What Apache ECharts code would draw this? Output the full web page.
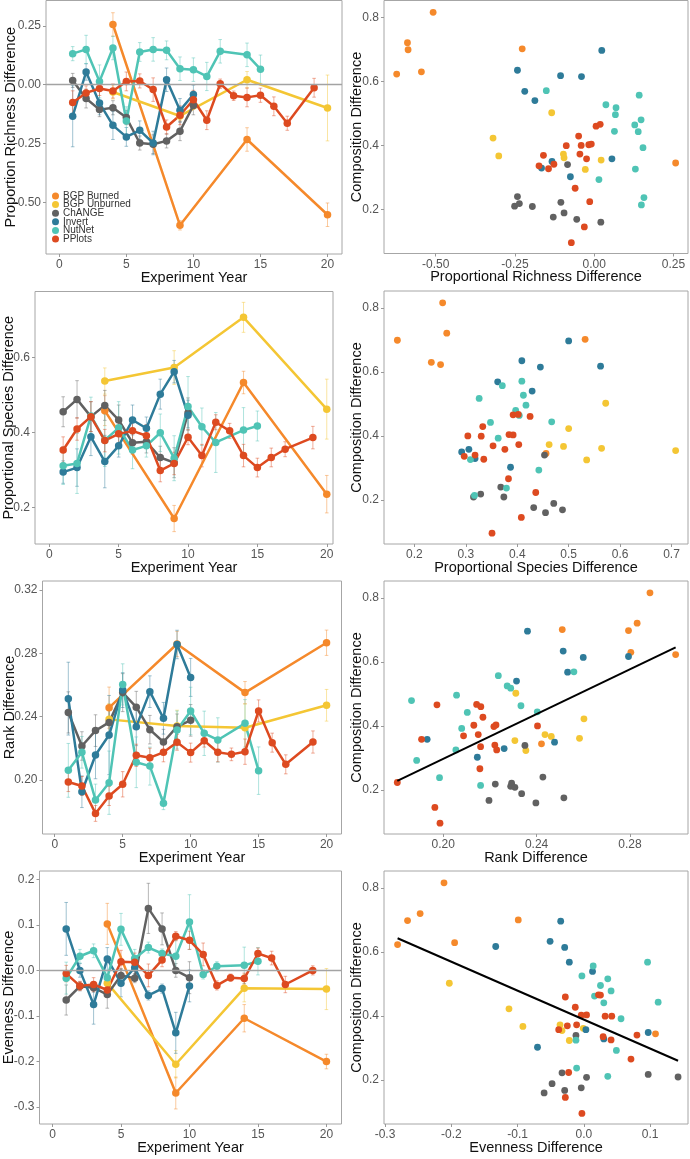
<!DOCTYPE html>
<html>
<head>
<meta charset="utf-8">
<title>community_change</title>
<script src="https://cdn.jsdelivr.net/npm/echarts@6/dist/echarts.min.js"></script>
<style>
html, body { margin: 0; padding: 0; background: #fff; }
#main { width: 690px; height: 1159px; }
</style>
</head>
<body>
<div id="main"></div>
<script>
var sites = ['BGP Burned', 'BGP Unburned', 'ChANGE', 'Invert', 'NutNet', 'PPlots'];
var colors = ['#f5892b', '#f4c634', '#616161', '#2e7b99', '#4fc4b5', '#dd4a20'];

// experiment years sampled by each site
var yearsBGP = [4, 9, 14, 20];
var yearsChANGE = [1, 2, 3, 4, 5, 6, 7, 8, 9, 10];
var yearsInvert = [1, 2, 3, 4, 5, 6, 7, 8, 9, 10];
var yearsNutNet = [1, 2, 3, 4, 5, 6, 7, 8, 9, 10, 11, 12, 14, 15];
var yearsPPlots = [1, 2, 3, 4, 5, 6, 7, 8, 9, 10, 11, 12, 13, 14, 15, 16, 17, 19];
var siteYears = [yearsBGP, yearsBGP, yearsChANGE, yearsInvert, yearsNutNet, yearsPPlots];

// means per site (same order as sites), and +/- error
var richMean = [
    [0.256, -0.598, -0.233, -0.553],
    [-0.031, -0.133, 0.021, -0.099],
    [0.018, -0.059, -0.106, -0.098, -0.140, -0.248, -0.253, -0.239, -0.198, -0.088],
    [-0.134, 0.054, -0.078, -0.173, -0.222, -0.194, -0.248, 0.021, -0.109, -0.042],
    [0.132, 0.150, 0.014, 0.156, -0.154, 0.139, 0.150, 0.146, 0.068, 0.064, 0.035, 0.142, 0.127, 0.066],
    [-0.076, -0.035, -0.016, -0.027, 0.014, 0.016, -0.021, -0.180, -0.130, -0.064, -0.151, 0.004, -0.047, -0.054, -0.045, -0.092, -0.164, -0.013]
];
var richErr = [
    [0.05, 0.02, 0.05, 0.05],
    [0.03, 0.02, 0.035, 0.14],
    [0.03, 0.04, 0.03, 0.03, 0.03, 0.03, 0.04, 0.03, 0.04, 0.04],
    [0.13, 0.035, 0.05, 0.06, 0.04, 0.04, 0.05, 0.05, 0.05, 0.04],
    [0.03, 0.06, 0.07, 0.05, 0.06, 0.04, 0.05, 0.04, 0.05, 0.05, 0.06, 0.05, 0.05, 0.06],
    [0.05, 0.03, 0.03, 0.03, 0.04, 0.03, 0.05, 0.03, 0.04, 0.04, 0.04, 0.02, 0.02, 0.04, 0.03, 0.04, 0.03, 0.04]
];
var speciesMean = [
    [0.458, 0.170, 0.533, 0.235],
    [0.537, 0.573, 0.707, 0.462],
    [0.455, 0.488, 0.442, 0.472, 0.433, 0.372, 0.375, 0.333, 0.319, 0.452],
    [0.294, 0.306, 0.388, 0.322, 0.364, 0.433, 0.411, 0.502, 0.562, 0.446],
    [0.311, 0.317, 0.444, 0.379, 0.412, 0.353, 0.364, 0.399, 0.331, 0.469, 0.415, 0.373, 0.406, 0.417],
    [0.353, 0.409, 0.442, 0.378, 0.396, 0.404, 0.391, 0.298, 0.317, 0.387, 0.338, 0.427, 0.404, 0.338, 0.306, 0.333, 0.355, 0.386]
];
var speciesErr = [
    [0.04, 0.035, 0.03, 0.05],
    [0.035, 0.045, 0.04, 0.08],
    [0.04, 0.05, 0.04, 0.04, 0.04, 0.03, 0.03, 0.03, 0.04, 0.04],
    [0.03, 0.05, 0.05, 0.07, 0.03, 0.04, 0.03, 0.04, 0.03, 0.04],
    [0.05, 0.08, 0.05, 0.07, 0.07, 0.05, 0.03, 0.05, 0.06, 0.08, 0.05, 0.08, 0.06, 0.04],
    [0.035, 0.03, 0.04, 0.03, 0.03, 0.03, 0.03, 0.03, 0.03, 0.02, 0.03, 0.02, 0.02, 0.03, 0.025, 0.025, 0.02, 0.03]
];
var rankMean = [
    [0.2457, 0.2859, 0.2552, 0.2867],
    [0.2383, 0.2341, 0.2330, 0.2472],
    [0.2427, 0.2215, 0.2312, 0.2364, 0.2552, 0.2460, 0.2318, 0.2240, 0.2337, 0.2377],
    [0.2514, 0.1926, 0.2158, 0.2284, 0.2568, 0.2337, 0.2558, 0.2390, 0.2856, 0.2648],
    [0.2061, 0.2175, 0.1874, 0.1983, 0.2604, 0.2112, 0.2088, 0.1853, 0.2316, 0.2436, 0.2295, 0.2253, 0.2358, 0.2059],
    [0.1987, 0.1962, 0.1789, 0.1899, 0.1973, 0.2156, 0.2141, 0.2175, 0.2238, 0.2173, 0.2248, 0.2175, 0.2162, 0.2179, 0.2436, 0.2236, 0.2099, 0.2240]
];
var rankErr = [
    [0.013, 0.008, 0.007, 0.008],
    [0.010, 0.010, 0.015, 0.010],
    [0.013, 0.009, 0.010, 0.010, 0.012, 0.010, 0.009, 0.008, 0.008, 0.010],
    [0.023, 0.010, 0.015, 0.025, 0.011, 0.012, 0.010, 0.010, 0.009, 0.012],
    [0.017, 0.010, 0.010, 0.020, 0.013, 0.016, 0.012, 0.004, 0.012, 0.015, 0.014, 0.014, 0.015, 0.015],
    [0.006, 0.006, 0.005, 0.006, 0.008, 0.007, 0.006, 0.006, 0.005, 0.006, 0.004, 0.006, 0.004, 0.008, 0.007, 0.006, 0.006, 0.007]
];
var evenMean = [
    [0.102, -0.269, -0.105, -0.200],
    [-0.028, -0.206, -0.039, -0.041],
    [-0.065, -0.035, -0.038, -0.053, -0.011, -0.017, 0.136, 0.091, 0.000, -0.016],
    [0.091, 0.000, -0.075, 0.025, -0.028, 0.006, -0.055, -0.040, -0.137, -0.034],
    [-0.017, 0.031, 0.043, -0.016, 0.090, 0.026, 0.050, 0.037, 0.031, 0.106, -0.009, 0.009, 0.011, 0.020],
    [-0.007, -0.034, -0.031, -0.043, 0.019, 0.018, -0.011, 0.023, 0.075, 0.066, 0.035, -0.033, -0.016, -0.018, 0.037, 0.027, -0.031, 0.000]
];
var evenErr = [
    [0.045, 0.035, 0.03, 0.016],
    [0.010, 0.030, 0.030, 0.045],
    [0.033, 0.010, 0.010, 0.030, 0.015, 0.010, 0.055, 0.035, 0.015, 0.035],
    [0.058, 0.015, 0.043, 0.025, 0.030, 0.015, 0.010, 0.010, 0.045, 0.035],
    [0.035, 0.015, 0.015, 0.015, 0.035, 0.020, 0.012, 0.010, 0.035, 0.060, 0.010, 0.010, 0.040, 0.030],
    [0.018, 0.010, 0.015, 0.015, 0.025, 0.020, 0.025, 0.015, 0.010, 0.020, 0.025, 0.010, 0.008, 0.012, 0.012, 0.015, 0.018, 0.010]
];

// scatter points [metric, composition difference] per site
var richVsComp = [
    [[-0.623, 0.623], [-0.589, 0.721], [-0.587, 0.699], [-0.545, 0.630], [-0.508, 0.816], [-0.227, 0.702], [0.257, 0.345]],
    [[-0.319, 0.423], [-0.301, 0.367], [-0.134, 0.502], [-0.097, 0.373], [-0.095, 0.361], [-0.028, 0.325], [0.022, 0.354]],
    [[-0.242, 0.240], [-0.251, 0.210], [-0.236, 0.218], [-0.195, 0.209], [-0.129, 0.176], [-0.105, 0.222], [-0.095, 0.189], [-0.084, 0.340], [-0.055, 0.169], [0.021, 0.160]],
    [[0.024, 0.697], [-0.242, 0.635], [-0.106, 0.618], [-0.040, 0.615], [-0.219, 0.569], [-0.187, 0.540], [-0.133, 0.350], [-0.166, 0.329], [-0.075, 0.302], [0.056, 0.358]],
    [[-0.151, 0.571], [0.037, 0.527], [0.069, 0.518], [0.067, 0.496], [0.142, 0.557], [0.128, 0.464], [0.148, 0.480], [0.139, 0.443], [0.064, 0.444], [0.154, 0.393], [0.015, 0.293], [0.130, 0.326], [0.157, 0.237], [0.149, 0.214]],
    [[0.006, 0.460], [0.019, 0.466], [-0.049, 0.429], [-0.088, 0.399], [-0.041, 0.400], [-0.017, 0.402], [-0.009, 0.404], [-0.160, 0.369], [-0.045, 0.373], [-0.024, 0.358], [-0.174, 0.336], [-0.144, 0.327], [-0.127, 0.341], [-0.060, 0.266], [-0.014, 0.224], [-0.031, 0.145], [-0.072, 0.096]]
];
var speciesVsComp = [
    [[0.167, 0.699], [0.255, 0.816], [0.263, 0.721], [0.233, 0.630], [0.251, 0.623], [0.532, 0.702], [0.456, 0.345]],
    [[0.572, 0.502], [0.500, 0.423], [0.462, 0.373], [0.490, 0.367], [0.564, 0.361], [0.535, 0.325], [0.708, 0.354]],
    [[0.453, 0.340], [0.368, 0.240], [0.315, 0.209], [0.329, 0.218], [0.374, 0.209], [0.432, 0.176], [0.471, 0.189], [0.455, 0.160], [0.488, 0.169]],
    [[0.500, 0.697], [0.409, 0.635], [0.445, 0.615], [0.562, 0.618], [0.362, 0.569], [0.429, 0.540], [0.292, 0.350], [0.306, 0.358], [0.318, 0.329], [0.387, 0.302]],
    [[0.409, 0.571], [0.371, 0.557], [0.326, 0.517], [0.412, 0.527], [0.417, 0.496], [0.397, 0.480], [0.404, 0.464], [0.348, 0.442], [0.467, 0.444], [0.363, 0.393], [0.309, 0.326], [0.442, 0.293], [0.379, 0.237], [0.317, 0.214]],
    [[0.392, 0.466], [0.402, 0.467], [0.425, 0.461], [0.333, 0.429], [0.304, 0.400], [0.330, 0.399], [0.384, 0.404], [0.392, 0.403], [0.353, 0.369], [0.403, 0.373], [0.376, 0.358], [0.297, 0.336], [0.318, 0.340], [0.335, 0.327], [0.383, 0.266], [0.436, 0.223], [0.408, 0.145], [0.351, 0.096]]
];
var rankVsComp = [
    [[0.2886, 0.816], [0.2831, 0.721], [0.2794, 0.698], [0.2804, 0.630], [0.2996, 0.623], [0.2510, 0.701], [0.2421, 0.344]],
    [[0.2311, 0.502], [0.2603, 0.422], [0.2436, 0.373], [0.2463, 0.367], [0.2584, 0.361], [0.2307, 0.354], [0.2354, 0.323]],
    [[0.2350, 0.339], [0.2427, 0.240], [0.2223, 0.218], [0.2293, 0.221], [0.2289, 0.211], [0.2307, 0.208], [0.2336, 0.188], [0.2196, 0.167], [0.2397, 0.159], [0.2517, 0.175]],
    [[0.2361, 0.696], [0.2514, 0.634], [0.2600, 0.614], [0.2794, 0.617], [0.2533, 0.568], [0.2314, 0.540], [0.1931, 0.358], [0.2146, 0.302], [0.2261, 0.329], [0.2477, 0.349]],
    [[0.2560, 0.569], [0.2236, 0.557], [0.2274, 0.525], [0.2289, 0.518], [0.2057, 0.496], [0.1864, 0.479], [0.2333, 0.463], [0.2103, 0.442], [0.2403, 0.444], [0.2079, 0.392], [0.2054, 0.325], [0.1886, 0.292], [0.1984, 0.238], [0.2160, 0.214]],
    [[0.1973, 0.466], [0.2143, 0.467], [0.2161, 0.460], [0.2170, 0.427], [0.2131, 0.402], [0.2217, 0.398], [0.2226, 0.403], [0.1907, 0.358], [0.2087, 0.369], [0.2150, 0.373], [0.2160, 0.335], [0.2221, 0.340], [0.2229, 0.325], [0.2404, 0.400], [0.2157, 0.266], [0.1803, 0.223], [0.1964, 0.145], [0.1986, 0.096]]
];
var evenVsComp = [
    [[-0.281, 0.623], [-0.266, 0.698], [-0.247, 0.720], [-0.211, 0.816], [-0.195, 0.629], [-0.099, 0.700], [0.108, 0.344]],
    [[-0.203, 0.502], [-0.113, 0.422], [-0.092, 0.367], [-0.036, 0.372], [-0.033, 0.354], [-0.001, 0.361], [-0.022, 0.323]],
    [[-0.012, 0.339], [-0.033, 0.222], [0.004, 0.208], [-0.048, 0.188], [-0.060, 0.159], [-0.029, 0.167], [-0.004, 0.175], [0.097, 0.217], [0.142, 0.209]],
    [[-0.035, 0.696], [-0.051, 0.633], [-0.029, 0.614], [-0.133, 0.617], [-0.022, 0.568], [0.013, 0.539], [0.003, 0.357], [-0.070, 0.302], [0.030, 0.328], [0.097, 0.348]],
    [[0.096, 0.568], [0.014, 0.556], [-0.003, 0.525], [0.036, 0.516], [0.025, 0.495], [0.041, 0.478], [0.016, 0.462], [0.030, 0.441], [0.112, 0.443], [0.056, 0.391], [-0.012, 0.324], [0.049, 0.292], [-0.011, 0.237], [0.036, 0.211]],
    [[0.022, 0.466], [0.025, 0.465], [-0.028, 0.459], [-0.013, 0.427], [-0.004, 0.402], [0.004, 0.403], [0.032, 0.399], [0.042, 0.399], [-0.038, 0.357], [-0.025, 0.369], [-0.011, 0.372], [0.029, 0.335], [0.041, 0.325], [0.080, 0.340], [0.071, 0.265], [-0.023, 0.223], [-0.028, 0.145], [-0.003, 0.095]]
];

var yearTicks = [0, 5, 10, 15, 20];
var richTicks = [-0.5, -0.25, 0, 0.25];
var speciesTicks = [0.2, 0.4, 0.6];
var rankTicks = [0.2, 0.24, 0.28, 0.32];
var evenTicks = [-0.3, -0.2, -0.1, 0, 0.1, 0.2];
var compTicks = [0.2, 0.4, 0.6, 0.8];
var richXTicks = [-0.5, -0.25, 0, 0.25];
var speciesXTicks = [0.2, 0.3, 0.4, 0.5, 0.6, 0.7];
var rankXTicks = [0.2, 0.24, 0.28];
var evenXTicks = [-0.3, -0.2, -0.1, 0, 0.1];

var FONT = '"Liberation Sans", Arial, sans-serif';

var grids = [
    {left: 46, top: 0.5, width: 296, height: 253.5},
    {left: 384, top: 0.5, width: 304, height: 253},
    {left: 35, top: 291.5, width: 298, height: 252.5},
    {left: 384, top: 291, width: 304, height: 253},
    {left: 42.5, top: 581, width: 299, height: 253},
    {left: 384, top: 581, width: 304, height: 253},
    {left: 39.5, top: 871, width: 302, height: 253},
    {left: 384, top: 871, width: 304, height: 253}
].map(function (g) {
    g.show = true;
    g.borderColor = '#a6a6a6';
    g.borderWidth = 1;
    g.containLabel = false;
    g.outerBoundsMode = 'none';
    return g;
});

function valueAxis(gi, min, max, ticks, digits, name, gap) {
    return {
        type: 'value', gridIndex: gi, min: min, max: max,
        name: name, nameLocation: 'middle', nameGap: gap, nameMoveOverlap: false,
        nameTextStyle: {color: '#111', fontSize: 14.5, fontFamily: FONT},
        axisLine: {show: false, onZero: false},
        axisTick: {show: true, length: 3, customValues: ticks, lineStyle: {color: '#999', width: 1}},
        axisLabel: {
            customValues: ticks, margin: 5, color: '#555', fontSize: 12, fontFamily: FONT,
            formatter: function (v) { return Number(v).toFixed(digits); }
        },
        splitLine: {show: false}
    };
}

var xAxes = [
    valueAxis(0, -0.99, 21.08, yearTicks, 0, 'Experiment Year', 16),
    valueAxis(1, -0.663, 0.296, richXTicks, 2, 'Proportional Richness Difference', 16),
    valueAxis(2, -1.03, 20.45, yearTicks, 0, 'Experiment Year', 16),
    valueAxis(3, 0.141, 0.732, speciesXTicks, 1, 'Proportional Species Difference', 16),
    valueAxis(4, -0.9, 21.1, yearTicks, 0, 'Experiment Year', 16),
    valueAxis(5, 0.1746, 0.3049, rankXTicks, 2, 'Rank Difference', 16),
    valueAxis(6, -0.95, 21.1, yearTicks, 0, 'Experiment Year', 16),
    valueAxis(7, -0.3015, 0.157, evenXTicks, 1, 'Evenness Difference', 16)
];
var yAxes = [
    valueAxis(0, -0.72, 0.358, richTicks, 2, 'Proportion Richness Difference', 28),
    valueAxis(1, 0.062, 0.853, compTicks, 1, 'Composition Difference', 19.5),
    valueAxis(2, 0.102, 0.776, speciesTicks, 1, 'Proportional Species Difference', 19),
    valueAxis(3, 0.062, 0.853, compTicks, 1, 'Composition Difference', 19.5),
    valueAxis(4, 0.1659, 0.3257, rankTicks, 2, 'Rank Difference', 25),
    valueAxis(5, 0.062, 0.853, compTicks, 1, 'Composition Difference', 19.5),
    valueAxis(6, -0.337, 0.218, evenTicks, 1, 'Evenness Difference', 23),
    valueAxis(7, 0.062, 0.853, compTicks, 1, 'Composition Difference', 19.5)
];

function renderErrorBar(params, api) {
    var x = api.value(0), y = api.value(1), e = api.value(2);
    var hi = api.coord([x, y + e]);
    var lo = api.coord([x, y - e]);
    var w = 1.8;
    var style = {stroke: api.visual('color'), lineWidth: 1, opacity: 0.45};
    return {
        type: 'group',
        children: [
            {type: 'line', shape: {x1: hi[0], y1: hi[1], x2: lo[0], y2: lo[1]}, style: style},
            {type: 'line', shape: {x1: hi[0] - w, y1: hi[1], x2: hi[0] + w, y2: hi[1]}, style: style},
            {type: 'line', shape: {x1: lo[0] - w, y1: lo[1], x2: lo[0] + w, y2: lo[1]}, style: style}
        ]
    };
}

var series = [];

function addTrend(gi, means, errs, zeroLine) {
    sites.forEach(function (s, i) {
        var yrs = siteYears[i];
        var pts = yrs.map(function (yr, k) { return [yr, means[i][k]]; });
        var eb = {
            name: s, type: 'custom', xAxisIndex: gi, yAxisIndex: gi, z: 1, clip: true,
            itemStyle: {color: colors[i]},
            renderItem: renderErrorBar, encode: {x: 0, y: 1},
            data: yrs.map(function (yr, k) { return [yr, means[i][k], errs[i][k]]; })
        };
        if (zeroLine && i === 0) {
            eb.markLine = {
                silent: true, symbol: 'none', label: {show: false},
                lineStyle: {color: '#a3a3a3', width: 1.3, type: 'solid'},
                data: [{yAxis: 0}]
            };
        }
        series.push(eb);
        series.push({
            name: s, type: 'line', xAxisIndex: gi, yAxisIndex: gi, z: 2,
            showSymbol: false, lineStyle: {color: colors[i], width: 2.5},
            itemStyle: {color: colors[i]}, data: pts
        });
        series.push({
            name: s, type: 'scatter', xAxisIndex: gi, yAxisIndex: gi, z: 3,
            symbolSize: 7.5, itemStyle: {color: colors[i], opacity: 1}, data: pts
        });
    });
}

function linearFit(groups) {
    var pts = [].concat.apply([], groups);
    var n = pts.length, mx = 0, my = 0;
    pts.forEach(function (p) { mx += p[0]; my += p[1]; });
    mx /= n; my /= n;
    var sxy = 0, sxx = 0, xmin = Infinity, xmax = -Infinity;
    pts.forEach(function (p) {
        sxy += (p[0] - mx) * (p[1] - my);
        sxx += (p[0] - mx) * (p[0] - mx);
        xmin = Math.min(xmin, p[0]);
        xmax = Math.max(xmax, p[0]);
    });
    var b = sxy / sxx, a = my - b * mx;
    return [[xmin, a + b * xmin], [xmax, a + b * xmax]];
}

function addScatter(gi, groups, withFit) {
    sites.forEach(function (s, i) {
        series.push({
            name: s, type: 'scatter', xAxisIndex: gi, yAxisIndex: gi, z: 3,
            symbolSize: 6.8, itemStyle: {color: colors[i], opacity: 1}, data: groups[i]
        });
    });
    if (withFit) {
        series.push({
            name: 'fit', type: 'line', xAxisIndex: gi, yAxisIndex: gi, z: 4,
            showSymbol: false, lineStyle: {color: '#000', width: 2},
            data: linearFit(groups)
        });
    }
}

addTrend(0, richMean, richErr, true);
addScatter(1, richVsComp, false);
addTrend(2, speciesMean, speciesErr, false);
addScatter(3, speciesVsComp, false);
addTrend(4, rankMean, rankErr, false);
addScatter(5, rankVsComp, true);
addTrend(6, evenMean, evenErr, true);
addScatter(7, evenVsComp, true);

var chart = echarts.init(document.getElementById('main'), null, {renderer: 'canvas'});
chart.setOption({
    animation: false,
    backgroundColor: '#fff',
    textStyle: {fontFamily: FONT},
    grid: grids,
    xAxis: xAxes,
    yAxis: yAxes,
    legend: {
        data: sites.map(function (s, i) {
            return {name: s, icon: 'circle', itemStyle: {color: colors[i], opacity: 1}};
        }),
        orient: 'vertical', left: 52, top: 191, padding: 0,
        itemWidth: 7, itemHeight: 7, itemGap: -1.4,
        textStyle: {fontSize: 10, color: '#333', fontFamily: FONT, lineHeight: 7, padding: [0, 0, 0, -1]}
    },
    series: series
});
</script>
</body>
</html>
